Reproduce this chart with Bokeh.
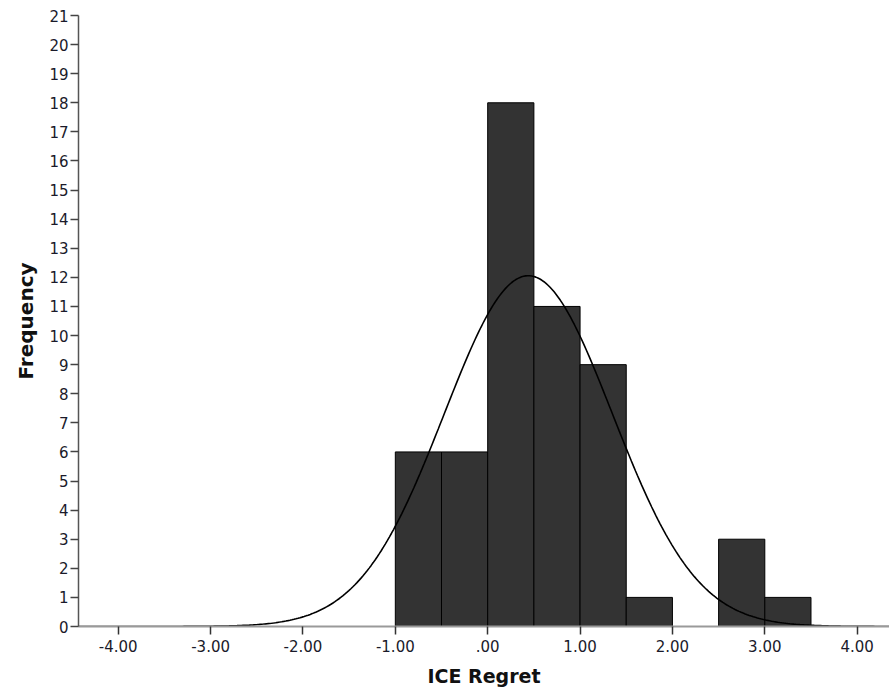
import numpy as np
from bokeh.plotting import figure
from bokeh.models import ColumnDataSource, FixedTicker, CustomJSTickFormatter
from bokeh.embed import file_html
from bokeh.resources import INLINE

# Histogram data (bin edges and counts)
bin_left = [-1.0, -0.5, 0.0, 0.5, 1.0, 1.5, 2.0, 2.5, 3.0]
bin_right = [-0.5, 0.0, 0.5, 1.0, 1.5, 2.0, 2.5, 3.0, 3.5]
counts = [6, 6, 18, 11, 9, 1, 0, 3, 1]

# Fitted normal curve parameters
fit_mean = 0.44
fit_sd = 0.91
n_total = sum(counts)
bin_width = 0.5

x_ticks = [-4, -3, -2, -1, 0, 1, 2, 3, 4]
y_ticks = list(range(0, 22))

FONT = "DejaVu Sans"

p = figure(width=889, height=698, x_range=(-4.43, 4.35), y_range=(0, 21),
           output_backend="svg", toolbar_location=None,
           min_border_left=78, min_border_right=0, min_border_top=15, min_border_bottom=72)
p.outline_line_color = None
p.xgrid.visible = False
p.ygrid.visible = False
p.background_fill_color = "white"
p.border_fill_color = "white"

# bars
bars = [(l, r, c) for l, r, c in zip(bin_left, bin_right, counts) if c > 0]
src = ColumnDataSource(dict(left=[b[0] for b in bars], right=[b[1] for b in bars],
                            top=[b[2] for b in bars], bottom=[0] * len(bars)))
p.quad(left="left", right="right", top="top", bottom="bottom", source=src,
       fill_color="#333333", line_color="#000000", line_width=1)

# normal curve
xs = np.linspace(-4.43, 4.35, 400)
ys = n_total * bin_width / (fit_sd * np.sqrt(2 * np.pi)) * np.exp(-0.5 * ((xs - fit_mean) / fit_sd) ** 2)
p.line(xs, ys, line_color="black", line_width=1.6)

# axes
xa = p.xaxis[0]
xa.ticker = FixedTicker(ticks=x_ticks)
xa.formatter = CustomJSTickFormatter(code="""
const s = Math.abs(tick).toFixed(2);
const t = (Math.abs(tick) < 1) ? s.slice(1) : s;
return (tick < 0 ? '-' : '') + t;
""")
xa.axis_label = "ICE Regret"
xa.axis_label_text_font = FONT
xa.axis_label_text_font_style = "bold"
xa.axis_label_text_font_size = "19px"
xa.axis_label_text_color = "#111111"
xa.axis_label_standoff = 10
xa.major_label_text_font = FONT
xa.major_label_text_font_size = "15px"
xa.major_label_text_color = "#1a1a2a"
xa.major_label_standoff = 5
xa.axis_line_color = "#9a9a9a"
xa.axis_line_width = 2
xa.major_tick_line_color = "#333333"
xa.major_tick_line_width = 1.5
xa.major_tick_out = 8
xa.major_tick_in = 0
xa.minor_tick_line_color = None

ya = p.yaxis[0]
ya.ticker = FixedTicker(ticks=y_ticks)
ya.axis_label = "Frequency"
ya.axis_label_text_font = FONT
ya.axis_label_text_font_style = "bold"
ya.axis_label_text_font_size = "20px"
ya.axis_label_text_color = "#111111"
ya.axis_label_standoff = 8
ya.major_label_text_font = FONT
ya.major_label_text_font_size = "15px"
ya.major_label_text_color = "#1a1a2a"
ya.major_label_standoff = 2
ya.axis_line_color = "#555555"
ya.axis_line_width = 1.5
ya.major_tick_line_color = "#444444"
ya.major_tick_line_width = 1.5
ya.major_tick_out = 8
ya.major_tick_in = 0
ya.minor_tick_line_color = None

open("out.html", "w").write(file_html(p, INLINE))
